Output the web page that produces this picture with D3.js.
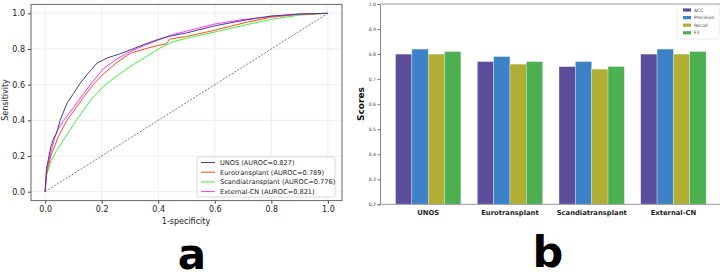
<!DOCTYPE html>
<html>
<head>
<meta charset="utf-8">
<script src="https://cdn.jsdelivr.net/npm/d3@7"></script>
<style>
  body { margin: 0; background: #fff; }
  svg { display: block; }
  text { font-family: "DejaVu Sans", sans-serif; }
</style>
</head>
<body>
<div id="chart"></div>
<script>
// ---- data : panel a (ROC) ----
const rocNames = ["UNOS (AUROC=0.827)", "Eurotransplant (AUROC=0.789)", "Scandiatransplant (AUROC=0.776)", "External-CN (AUROC=0.821)"];
const rocColors = ["#483d8b", "#ff4a1c", "#3ef23e", "#ff33ff"];
const unosFpr = [0, 0.005, 0.02, 0.03, 0.041, 0.053, 0.077, 0.1, 0.124, 0.15, 0.183, 0.22, 0.26, 0.3, 0.35, 0.4, 0.45, 0.5, 0.6, 0.7, 0.8, 0.9, 1];
const unosTpr = [0, 0.13, 0.25, 0.30, 0.33, 0.40, 0.495, 0.55, 0.608, 0.66, 0.72, 0.75, 0.77, 0.794, 0.825, 0.854, 0.875, 0.89, 0.93, 0.96, 0.985, 0.996, 1];
const euroFpr = [0, 0.005, 0.02, 0.035, 0.047, 0.077, 0.1, 0.136, 0.17, 0.206, 0.25, 0.3, 0.35, 0.4, 0.43, 0.44, 0.5, 0.6, 0.7, 0.8, 0.9, 1];
const euroTpr = [0, 0.10, 0.20, 0.26, 0.31, 0.40, 0.45, 0.53, 0.60, 0.66, 0.72, 0.775, 0.80, 0.82, 0.83, 0.855, 0.87, 0.905, 0.945, 0.978, 0.995, 1];
const scanFpr = [0, 0.005, 0.02, 0.04, 0.065, 0.088, 0.11, 0.136, 0.17, 0.206, 0.25, 0.3, 0.35, 0.4, 0.45, 0.5, 0.6, 0.7, 0.8, 0.9, 1];
const scanTpr = [0, 0.09, 0.17, 0.23, 0.29, 0.346, 0.40, 0.458, 0.53, 0.59, 0.645, 0.70, 0.75, 0.80, 0.84, 0.86, 0.895, 0.932, 0.966, 0.99, 1];
const extFpr = [0, 0.005, 0.02, 0.03, 0.041, 0.065, 0.1, 0.136, 0.17, 0.206, 0.25, 0.3, 0.35, 0.4, 0.45, 0.5, 0.6, 0.7, 0.8, 0.9, 1];
const extTpr = [0, 0.12, 0.22, 0.28, 0.337, 0.40, 0.47, 0.55, 0.62, 0.69, 0.74, 0.785, 0.82, 0.85, 0.88, 0.90, 0.94, 0.965, 0.982, 0.996, 1];
const rocTicks = [0, 0.2, 0.4, 0.6, 0.8, 1.0];

// ---- data : panel b (bars) ----
const cohorts = ["UNOS", "Eurotransplant", "Scandiatransplant", "External-CN"];
const metrics = ["ACC", "Precision", "Recall", "F1"];
const metricColors = ["#5c4d9b", "#3b82c8", "#b0ae33", "#4caf50"];
const accVals = [0.80, 0.77, 0.75, 0.80];
const precVals = [0.82, 0.79, 0.77, 0.82];
const recallVals = [0.80, 0.76, 0.74, 0.80];
const f1Vals = [0.81, 0.77, 0.75, 0.81];
const scoreTicks = [0.2, 0.3, 0.4, 0.5, 0.6, 0.7, 0.8, 0.9, 1.0];

const svg = d3.select("#chart").append("svg")
  .attr("width", 720)
  .attr("height", 274);

// ================= panel a =================
const x = d3.scaleLinear().domain([-0.05, 1.05]).range([31, 342]);
const y = d3.scaleLinear().domain([-0.05, 1.05]).range([200.6, 4.4]);

const ga = svg.append("g");

// grid
ga.append("g").selectAll("line").data(rocTicks).enter().append("line")
  .attr("x1", d => x(d)).attr("x2", d => x(d))
  .attr("y1", y(-0.05)).attr("y2", y(1.05))
  .attr("stroke", "#e8e8e8").attr("stroke-width", 0.8);
ga.append("g").selectAll("line").data(rocTicks).enter().append("line")
  .attr("y1", d => y(d)).attr("y2", d => y(d))
  .attr("x1", x(-0.05)).attr("x2", x(1.05))
  .attr("stroke", "#e8e8e8").attr("stroke-width", 0.8);

// axes
const xAxisA = ga.append("g").attr("transform", `translate(0,${y(-0.05)})`)
  .call(d3.axisBottom(x).tickValues(rocTicks).tickFormat(d3.format(".1f")).tickSize(3).tickPadding(3));
const yAxisA = ga.append("g").attr("transform", `translate(${x(-0.05)},0)`)
  .call(d3.axisLeft(y).tickValues(rocTicks).tickFormat(d3.format(".1f")).tickSize(3).tickPadding(3));
[xAxisA, yAxisA].forEach(a => {
  a.select(".domain").remove();
  a.selectAll(".tick line").attr("stroke", "#444");
  a.selectAll(".tick text").attr("font-size", 8).attr("fill", "#222");
});

// diagonal
ga.append("line")
  .attr("x1", x(0)).attr("y1", y(0)).attr("x2", x(1)).attr("y2", y(1))
  .attr("stroke", "#222").attr("stroke-width", 0.6).attr("stroke-dasharray", "2,1.5");

// curves
const rocSeries = [
  [unosFpr, unosTpr],
  [euroFpr, euroTpr],
  [scanFpr, scanTpr],
  [extFpr, extTpr]
];
const line = d3.line().x(d => x(d[0])).y(d => y(d[1]));
const drawOrder = [2, 1, 3, 0];
drawOrder.forEach(i => {
  const pts = rocSeries[i][0].map((f, k) => [f, rocSeries[i][1][k]]);
  ga.append("path").datum(pts)
    .attr("d", line)
    .attr("fill", "none")
    .attr("stroke", rocColors[i])
    .attr("stroke-width", 1);
});

// frame
ga.append("rect")
  .attr("x", x(-0.05)).attr("y", y(1.05))
  .attr("width", x(1.05) - x(-0.05)).attr("height", y(-0.05) - y(1.05))
  .attr("fill", "none").attr("stroke", "#666").attr("stroke-width", 1);

// labels
ga.append("text").attr("x", 186).attr("y", 224).attr("text-anchor", "middle")
  .attr("font-size", 8).attr("fill", "#222").text("1-specificity");
ga.append("text").attr("transform", "translate(8,100) rotate(-90)").attr("text-anchor", "middle")
  .attr("font-size", 8).attr("fill", "#222").text("Sensitivity");

// legend
const legA = ga.append("g");
legA.append("rect").attr("x", 197).attr("y", 157).attr("width", 138).attr("height", 40)
  .attr("rx", 2).attr("fill", "#fff").attr("fill-opacity", 0.85)
  .attr("stroke", "#d0d0d0").attr("stroke-width", 0.8);
rocNames.forEach((name, i) => {
  const ly = 162.5 + i * 9.7;
  legA.append("line").attr("x1", 201).attr("x2", 215).attr("y1", ly).attr("y2", ly)
    .attr("stroke", rocColors[i]).attr("stroke-width", 1);
  legA.append("text").attr("x", 220).attr("y", ly + 2.4)
    .attr("font-size", 6.6).attr("fill", "#222").text(name);
});

// panel letter
svg.append("text").attr("x", 192).attr("y", 269).attr("text-anchor", "middle")
  .attr("font-family", "Liberation Sans, Arial, sans-serif").attr("font-weight", "bold")
  .attr("font-size", 42).attr("fill", "#000").text("a");

// ================= panel b =================
const gb = svg.append("g");
const bx = d3.scaleLinear().domain([-0.59, 3.57]).range([380, 720]);
const by = d3.scaleLinear().domain([0.2, 1.0]).range([204.3, 4]);
const metricVals = [accVals, precVals, recallVals, f1Vals];
const barW = 0.2;

metricVals.forEach((vals, m) => {
  gb.append("g").selectAll("rect").data(vals).enter().append("rect")
    .attr("x", (d, c) => bx(c + (m - 2) * barW))
    .attr("width", bx(barW) - bx(0))
    .attr("y", d => by(d))
    .attr("height", d => by(0.2) - by(d))
    .attr("fill", metricColors[m])
    .attr("stroke", "#e6eef6").attr("stroke-width", 0.4);
});

// axes
const yAxisB = gb.append("g").attr("transform", "translate(380,0)")
  .call(d3.axisLeft(by).tickValues(scoreTicks).tickFormat(d3.format(".1f")).tickSize(2.5).tickPadding(1.5));
yAxisB.select(".domain").attr("stroke", "#888");
yAxisB.selectAll(".tick line").attr("stroke", "#777");
yAxisB.selectAll(".tick text").attr("font-size", 4.6).attr("fill", "#444");

gb.append("line").attr("x1", 380).attr("x2", 720).attr("y1", by(0.2)).attr("y2", by(0.2))
  .attr("stroke", "#999").attr("stroke-width", 1);
gb.append("line").attr("x1", 380).attr("x2", 720).attr("y1", by(1.0)).attr("y2", by(1.0))
  .attr("stroke", "#999").attr("stroke-width", 1);

gb.append("g").selectAll("text").data(cohorts).enter().append("text")
  .attr("x", (d, i) => bx(i)).attr("y", 214.5).attr("text-anchor", "middle")
  .attr("font-size", 6.8).attr("font-weight", "bold").attr("fill", "#222").text(d => d);

gb.append("text").attr("transform", "translate(363.5,104) rotate(-90)").attr("text-anchor", "middle")
  .attr("font-size", 9).attr("font-weight", "bold").attr("fill", "#111").text("Scores");

// legend
const legB = gb.append("g");
legB.append("rect").attr("x", 677).attr("y", 5).attr("width", 42).attr("height", 34)
  .attr("rx", 1.5).attr("fill", "#fff").attr("stroke", "#ddd").attr("stroke-width", 0.6);
metrics.forEach((name, i) => {
  const ly = 10 + i * 7.6;
  legB.append("rect").attr("x", 683).attr("y", ly - 1.6).attr("width", 8).attr("height", 3.2)
    .attr("fill", metricColors[i]);
  legB.append("text").attr("x", 694).attr("y", ly + 1.6)
    .attr("font-size", 4.6).attr("fill", "#444").text(name);
});

svg.append("text").attr("x", 548).attr("y", 267).attr("text-anchor", "middle")
  .attr("font-family", "Liberation Sans, Arial, sans-serif").attr("font-weight", "bold")
  .attr("font-size", 43).attr("fill", "#000").text("b");
</script>
</body>
</html>
